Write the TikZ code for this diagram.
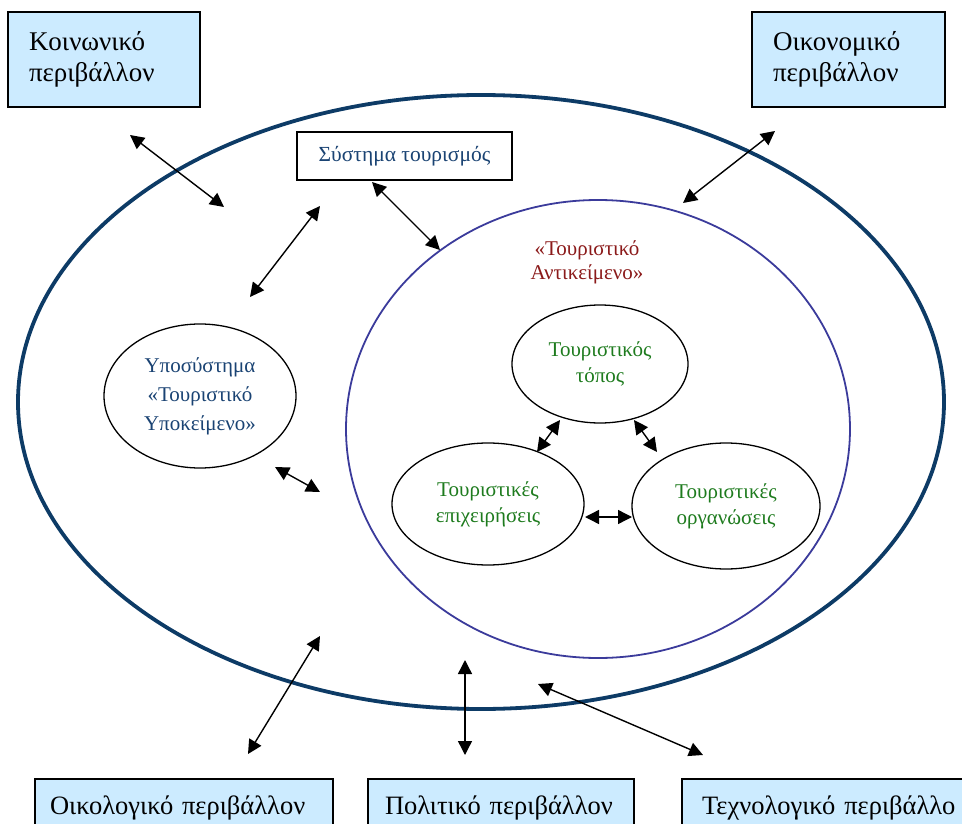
\documentclass[tikz,border=0pt]{standalone}
\usepackage{fontspec}
\setmainfont{Liberation Serif}
\usetikzlibrary{shapes.geometric,arrows.meta}
\definecolor{envfill}{HTML}{CCEBFF}
\definecolor{outerline}{HTML}{0D3B66}
\definecolor{innerline}{HTML}{3B3B9B}
\definecolor{sysblue}{HTML}{1A4373}
\definecolor{placegreen}{HTML}{1E7B1E}
\definecolor{objred}{HTML}{8B1A1A}
\tikzset{
  envbox/.style={draw=black, line width=1.6pt, fill=envfill, rectangle,
    align=left, inner ysep=0pt},
  topenv/.style={envbox, font=\fontsize{27}{31}\selectfont},
  lowenv/.style={envbox, font=\fontsize{26.5}{30}\selectfont},
  sysbox/.style={draw=black, line width=1.3pt, fill=white, rectangle,
    minimum width=215pt, minimum height=48pt, text=sysblue,
    font=\fontsize{21.5}{26}\selectfont},
  partell/.style={draw=black, line width=1.3pt, ellipse, inner sep=0pt,
    align=center, font=\fontsize{21}{26}\selectfont},
  dblarrow/.style={{Triangle[length=14pt,width=14pt]}-{Triangle[length=14pt,width=14pt]},
    line width=1.4pt, black}
}
\begin{document}
\begin{tikzpicture}[x=1pt,y=-1pt]
\useasboundingbox (0,0) rectangle (962,824);
\clip (0,0) rectangle (962,824);

% outer system boundary and the tourist object
\node[draw=outerline, line width=3.8pt, ellipse, inner sep=0pt,
  minimum width=926pt, minimum height=614pt] (system) at (481,402) {};
\node[draw=innerline, line width=1.8pt, ellipse, inner sep=0pt,
  minimum width=504pt, minimum height=458pt] (object) at (598,429) {};

% environment boxes
\node[topenv, minimum width=192pt, minimum height=95pt, inner xsep=21pt,
  text width=150pt] (social) at (104,59.5) {Κοινωνικό\\περιβάλλον};
\node[topenv, minimum width=193pt, minimum height=95pt, inner xsep=21pt,
  text width=151pt] (economic) at (848.5,59.5) {Οικονομικό\\περιβάλλον};
\node[lowenv, minimum width=298pt, minimum height=58pt, inner xsep=15pt,
  text width=268pt] (ecological) at (184,808) {Οικολογικό περιβάλλον};
\node[lowenv, minimum width=266pt, minimum height=58pt, inner xsep=17pt,
  text width=232pt] (political) at (501,808) {Πολιτικό περιβάλλον};
\node[lowenv, minimum width=318pt, minimum height=58pt, inner xsep=20pt,
  text width=278pt] (technological) at (841,808) {Τεχνολογικό περιβάλλο};

% tourism system box
\node[sysbox] (tourism) at (404.5,156) {Σύστημα τουρισμός};

% subsystem "tourist subject"
\node[partell, text=sysblue, font=\fontsize{21}{29}\selectfont,
  minimum width=192pt, minimum height=144pt]
  (subject) at (200,396) {Υποσύστημα\\«Τουριστικό\\Υποκείμενο»};

% tourist object label and its parts
\node[text=objred, align=center, font=\fontsize{21}{24}\selectfont]
  (objlabel) at (587,262) {«Τουριστικό\\Αντικείμενο»};
\node[partell, text=placegreen, minimum width=176pt, minimum height=118pt]
  (place) at (600,364) {Τουριστικός\\τόπος};
\node[partell, text=placegreen, minimum width=192pt, minimum height=122pt]
  (business) at (488,504) {Τουριστικές\\επιχειρήσεις};
\node[partell, text=placegreen, minimum width=188pt, minimum height=126pt]
  (organisations) at (726,506) {Τουριστικές\\οργανώσεις};

% free ends of the exchange arrows
\coordinate (a1s) at (130,135);  \coordinate (a1e) at (224,207);
\coordinate (a2s) at (250,297);  \coordinate (a2e) at (320,206);
\coordinate (a3s) at (372,182);  \coordinate (a3e) at (440,250);
\coordinate (a4s) at (775,131);  \coordinate (a4e) at (683,203);
\coordinate (a5s) at (275,467);  \coordinate (a5e) at (320,492);
\coordinate (a6s) at (560,420);  \coordinate (a6e) at (537,452);
\coordinate (a7s) at (634,420);  \coordinate (a7e) at (657,452);
\coordinate (a8s) at (585,517);  \coordinate (a8e) at (632,517);
\coordinate (a9s) at (320,636);  \coordinate (a9e) at (248,754);
\coordinate (a10s) at (465,660); \coordinate (a10e) at (465,755);
\coordinate (a11s) at (538,684); \coordinate (a11e) at (703,755);

\draw[dblarrow] (a1s) -- (a1e);
\draw[dblarrow] (a2s) -- (a2e);
\draw[dblarrow] (a3s) -- (a3e);
\draw[dblarrow] (a4s) -- (a4e);
\draw[dblarrow] (a5s) -- (a5e);
\draw[dblarrow] (a6s) -- (a6e);
\draw[dblarrow] (a7s) -- (a7e);
\draw[dblarrow] (a8s) -- (a8e);
\draw[dblarrow] (a9s) -- (a9e);
\draw[dblarrow] (a10s) -- (a10e);
\draw[dblarrow] (a11s) -- (a11e);
\end{tikzpicture}
\end{document}
